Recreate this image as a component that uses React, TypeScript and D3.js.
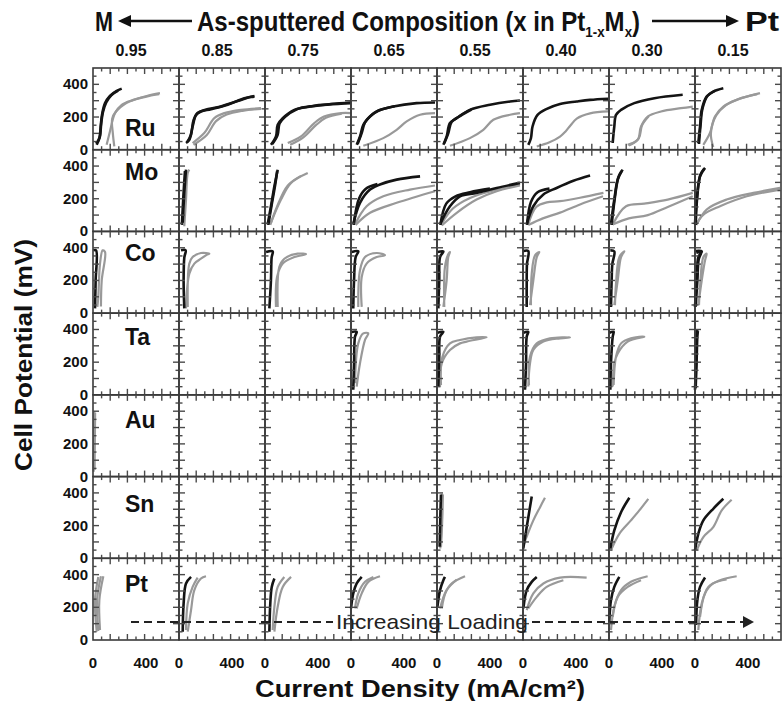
import React from 'react';
import * as d3 from 'd3';

type P = [number, number];
type Panel = { k?: P[][]; g?: P[][] };

// rows (metal M) and columns (x in Pt1-xMx)
const metals = ['Ru', 'Mo', 'Co', 'Ta', 'Au', 'Sn', 'Pt'];
const compositions = ['0.95', '0.85', '0.75', '0.65', '0.55', '0.40', '0.30', '0.15'];
const yTickLabels = [0, 200, 400];
const xTickLabels = [0, 400];

// current density (mA/cm2), cell potential (mV); k = black traces, g = gray traces
const ruPanels: Panel[] = [
  { k: [[[23, 37], [48, 71], [58, 142], [68, 213], [91, 285], [128, 329], [179, 360], [217, 374]], [[28, 30], [52, 80], [62, 160], [75, 230], [100, 290], [140, 335], [190, 362]]],
    g: [[[103, 30], [128, 112], [149, 183], [166, 224], [217, 275], [305, 305], [406, 329], [506, 346]], [[161, 20], [150, 100], [145, 190], [175, 235], [240, 280], [330, 310], [430, 330], [500, 340]]] },
  { k: [[[53, 41], [78, 61], [103, 142], [129, 213], [166, 234], [242, 248], [368, 275], [494, 315], [570, 329]], [[60, 45], [90, 90], [110, 180], [140, 225], [200, 245], [300, 262], [420, 292], [540, 322], [570, 325]]],
    g: [[[103, 41], [191, 102], [267, 193], [343, 224], [469, 244], [620, 254]], [[110, 30], [210, 90], [280, 175], [360, 215], [480, 238], [620, 250]]] },
  { k: [[[45, 30], [83, 81], [96, 152], [134, 193], [222, 244], [348, 264], [500, 280], [650, 289]], [[55, 35], [95, 90], [110, 160], [150, 200], [240, 248], [360, 268], [650, 285]]],
    g: [[[172, 41], [272, 81], [373, 163], [446, 203], [575, 224], [650, 224]], [[190, 30], [290, 75], [385, 150], [460, 195], [580, 220]]] },
  { k: [[[43, 30], [68, 81], [93, 152], [131, 193], [194, 234], [320, 264], [496, 285], [635, 289]], [[50, 35], [80, 100], [105, 165], [145, 205], [210, 240], [330, 266]]],
    g: [[[93, 24], [244, 71], [345, 122], [421, 173], [522, 214], [635, 224]]] },
  { k: [[[48, 30], [73, 81], [98, 163], [149, 193], [249, 244], [401, 275], [552, 295], [627, 301]], [[55, 40], [85, 100], [110, 170], [160, 200], [260, 246]]],
    g: [[[98, 24], [249, 71], [350, 122], [426, 183], [552, 214], [627, 224]]] },
  { k: [[[40, 30], [60, 70], [72, 142], [110, 213], [180, 250], [280, 280], [406, 295], [507, 305], [643, 312]]],
    g: [[[104, 20], [200, 45], [280, 80], [320, 110], [360, 150], [406, 190], [507, 222], [645, 234]]] },
  { k: [[[28, 41], [40, 142], [53, 213], [91, 244], [191, 285], [343, 315], [557, 336]]],
    g: [[[141, 30], [217, 61], [242, 142], [293, 203], [393, 234], [544, 254], [633, 264]], [[150, 25], [225, 70], [250, 150], [300, 205]]] },
  { k: [[[25, 41], [38, 142], [51, 244], [88, 325], [138, 356], [214, 376]], [[30, 35], [42, 150], [56, 250], [95, 330], [150, 360]]],
    g: [[[63, 30], [113, 102], [151, 203], [214, 264], [315, 305], [491, 346]], [[138, 16], [120, 100], [160, 210], [230, 270], [330, 310], [470, 340]]] },
];

const moPanels: Panel[] = [
  {},
  { k: [[[28, 53], [40, 236], [53, 378]], [[22, 40], [32, 200], [45, 370]]],
    g: [[[40, 32], [53, 195], [66, 358], [78, 378]]] },
  { k: [[[20, 43], [45, 154], [71, 276], [96, 378]], [[25, 40], [50, 160], [78, 290], [92, 370]]],
    g: [[[45, 53], [121, 195], [197, 297], [323, 358]], [[40, 40], [90, 150], [171, 280], [272, 340]]] },
  { k: [[[17, 43], [68, 175], [144, 256], [219, 287], [345, 317], [522, 337]], [[20, 40], [60, 200], [110, 260], [200, 290]]],
    g: [[[30, 43], [118, 154], [244, 215], [446, 256], [635, 281]], [[35, 40], [144, 114], [345, 175], [635, 246]]] },
  { k: [[[23, 43], [98, 154], [174, 215], [299, 236], [451, 266], [627, 297]], [[25, 40], [70, 170], [140, 215], [250, 240], [400, 262]]],
    g: [[[36, 37], [149, 114], [299, 195], [451, 246], [627, 281]], [[30, 40], [120, 140], [250, 205], [450, 255], [627, 290]]] },
  { k: [[[28, 43], [78, 154], [154, 226], [254, 266], [381, 310], [507, 342]], [[30, 40], [60, 180], [110, 240], [200, 262]]],
    g: [[[40, 43], [100, 150], [180, 178], [280, 185], [431, 206], [608, 236]], [[40, 40], [150, 80], [280, 115], [431, 165], [605, 215]]] },
  { k: [[[15, 43], [40, 195], [66, 317], [103, 378]], [[20, 40], [45, 210], [70, 330], [95, 370]]],
    g: [[[28, 43], [129, 154], [267, 170], [444, 195], [633, 236]], [[28, 43], [150, 80], [293, 100], [444, 150], [633, 215]]] },
  { k: [[[0, 43], [13, 195], [38, 337], [76, 389]], [[5, 40], [18, 220], [40, 345], [70, 385]]],
    g: [[[13, 43], [88, 134], [239, 195], [441, 236], [643, 266]], [[10, 40], [60, 100], [189, 154], [391, 215], [643, 256]]] },
];

const coPanels: Panel[] = [
  { k: [[[3, 384], [23, 384], [20, 201], [15, 29]]],
    g: [[[33, 38], [40, 99], [53, 303], [73, 384], [91, 374], [66, 201], [60, 40]]] },
  { k: [[[15, 385], [50, 385], [40, 340], [35, 200], [40, 29]]],
    g: [[[53, 29], [78, 242], [116, 303], [166, 333], [217, 360], [229, 364], [166, 368], [103, 343], [78, 303], [66, 38]]] },
  { k: [[[8, 374], [58, 378], [50, 340], [45, 201], [33, 29]]],
    g: [[[83, 38], [91, 221], [134, 303], [222, 343], [310, 360], [247, 364], [146, 333], [108, 282], [96, 38]]] },
  { k: [[[5, 374], [55, 378], [35, 343], [23, 201], [17, 29]]],
    g: [[[81, 38], [81, 221], [118, 303], [194, 343], [257, 354], [194, 368], [106, 343], [68, 262], [55, 38]]] },
  { k: [[[5, 374], [48, 378], [23, 343], [17, 201], [10, 29]]],
    g: [[[48, 38], [73, 201], [85, 343], [98, 374], [85, 360], [60, 282], [55, 38]]] },
  { k: [[[2, 380], [40, 380], [30, 300], [28, 200], [28, 38]]],
    g: [[[53, 49], [78, 201], [104, 343], [123, 374], [91, 354], [66, 242], [60, 49]]] },
  { k: [[[10, 384], [40, 378], [25, 300], [20, 201], [15, 38]]],
    g: [[[40, 49], [66, 201], [91, 343], [116, 378], [78, 343], [53, 181], [45, 49]]] },
  { k: [[[5, 380], [51, 378], [25, 343], [13, 201], [0, 38]], [[10, 370], [45, 372], [28, 330], [18, 200], [5, 40]]],
    g: [[[25, 49], [51, 201], [76, 323], [88, 364], [63, 343], [38, 160], [30, 49]]] },
];

const taPanels: Panel[] = [
  {}, {}, {},
  { k: [[[5, 385], [43, 386], [30, 356], [23, 193], [17, 31]]],
    g: [[[43, 51], [68, 193], [106, 336], [131, 376], [93, 376], [55, 315], [30, 71]]] },
  { k: [[[5, 380], [48, 386], [23, 356], [17, 234], [10, 51]]],
    g: [[[23, 51], [36, 193], [98, 275], [174, 315], [224, 326], [375, 352], [299, 352], [174, 336], [98, 315], [40, 230], [30, 60]]] },
  { k: [[[5, 380], [40, 386], [28, 356], [23, 193], [15, 31]]],
    g: [[[40, 51], [53, 193], [78, 275], [154, 326], [280, 346], [355, 352], [204, 346], [104, 315], [53, 234], [45, 60]]] },
  { k: [[[5, 380], [35, 386], [28, 356], [15, 193], [10, 31]]],
    g: [[[28, 51], [40, 193], [66, 254], [141, 326], [267, 356], [166, 346], [91, 315], [53, 234], [35, 60]]] },
  { k: [[[0, 31], [8, 193], [13, 356], [18, 397]], [[5, 40], [12, 200], [18, 360], [22, 390]]],
    g: [[[5, 50], [10, 200], [15, 380]]] },
];

const auPanels: Panel[] = [
  { g: [[[5, 30], [8, 200], [10, 400]], [[12, 40], [14, 220], [16, 390]]] },
  {}, {}, {}, {}, {}, {}, {},
];

const snPanels: Panel[] = [
  {}, {}, {}, {},
  { k: [[[20, 70], [25, 250], [30, 390]]],
    g: [[[25, 60], [35, 200], [45, 390]], [[30, 70], [40, 250], [38, 395]]] },
  { k: [[[2, 59], [28, 191], [66, 378]]],
    g: [[[8, 90], [78, 232], [129, 313], [166, 370]]] },
  { k: [[[10, 59], [40, 171], [91, 282], [154, 370]]],
    g: [[[15, 49], [78, 150], [166, 232], [229, 293], [297, 364]]] },
  { k: [[[0, 49], [25, 150], [63, 232], [138, 303], [214, 364]]],
    g: [[[13, 49], [63, 130], [138, 191], [202, 293], [277, 358]]] },
];

const ptPanels: Panel[] = [
  { g: [[[28, 51], [15, 244], [40, 386]], [[53, 61], [48, 244], [78, 390]], [[40, 55], [30, 240], [60, 390]]] },
  { k: [[[28, 51], [35, 224], [53, 346], [91, 386]]],
    g: [[[66, 51], [91, 183], [116, 305], [166, 376], [204, 390]], [[53, 61], [66, 224], [103, 325], [141, 382]]] },
  { k: [[[33, 51], [40, 224], [51, 325], [71, 376]]],
    g: [[[71, 51], [96, 203], [134, 325], [197, 386]], [[58, 61], [71, 203], [96, 325], [146, 386]]] },
  { k: [[[0, 193], [17, 285], [43, 346], [81, 386]]],
    g: [[[43, 193], [81, 285], [131, 356], [219, 390]], [[30, 193], [55, 285], [106, 356], [169, 386]]] },
  { k: [[[3, 203], [23, 305], [48, 366], [60, 386]]],
    g: [[[23, 193], [60, 285], [111, 346], [212, 390]], [[36, 193], [73, 305], [149, 370]]] },
  { k: [[[3, 193], [28, 305], [66, 356], [104, 386]]],
    g: [[[28, 183], [78, 285], [154, 346], [280, 382], [481, 382]], [[40, 193], [104, 264], [179, 325], [305, 366]]] },
  { k: [[[2, 112], [15, 244], [40, 325], [78, 386]]],
    g: [[[15, 61], [40, 203], [91, 305], [166, 356], [292, 390]], [[28, 142], [66, 264], [141, 325], [242, 366]]] },
  { k: [[[8, 92], [18, 244], [38, 325], [76, 382]]],
    g: [[[25, 61], [51, 224], [101, 325], [189, 366], [315, 390]], [[38, 142], [76, 285], [138, 346], [239, 370]]] },
];

const panelRows = [ruPanels, moPanels, coPanels, taPanels, auPanels, snPanels, ptPanels];

const FONT = '"Liberation Sans", Arial, Helvetica, sans-serif';

export default function App() {
  const W = 782;
  const H = 701;
  const colX = d3.scaleLinear().domain([0, 8]).range([93, 781]);
  const rowY = d3.scaleLinear().domain([0, 7]).range([68, 640]);
  const pw = colX(1) - colX(0);
  const ph = rowY(1) - rowY(0);
  const x = d3.scaleLinear().domain([0, 650]).range([0, pw]);
  const y = d3.scaleLinear().domain([0, 500]).range([ph, 0]);
  const line = d3.line<P>().x(d => x(d[0])).y(d => y(d[1])).curve(d3.curveCatmullRom.alpha(0.5));

  const xt = d3.range(65, 650, 65);
  const yt = d3.range(50, 500, 50);
  const tickCol = '#4a4a4a';

  const labelDy = [68, 30, 30, 32, 33, 35, 34];

  return (
    <div style={{ position: 'absolute', left: 0, top: 0 }}>
      <svg width={W} height={H} style={{ display: 'block', background: '#fff' }} fontFamily={FONT}>
        {/* header */}
        <g fontWeight="bold" fill="#111">
          <text x={95} y={31} fontSize={27} textLength={18} lengthAdjust="spacingAndGlyphs">M</text>
          <line x1={192} x2={128} y1={21} y2={21} stroke="#111" strokeWidth={2.5} />
          <path d="M118,21 L131,15 L131,27 Z" fill="#111" />
          <text transform="translate(197,31) scale(0.89,1)" fontSize={27}>
            As-sputtered Composition (x in Pt
            <tspan fontSize={15} dy={6}>1-x</tspan>
            <tspan fontSize={27} dy={-6}>M</tspan>
            <tspan fontSize={15} dy={6}>x</tspan>
            <tspan fontSize={27} dy={-6}>)</tspan>
          </text>
          <line x1={652} x2={728} y1={21} y2={21} stroke="#111" strokeWidth={2.5} />
          <path d="M739,21 L726,15 L726,27 Z" fill="#111" />
          <text x={745} y={31} fontSize={27} textLength={34} lengthAdjust="spacingAndGlyphs">Pt</text>
          {compositions.map((c, i) => (
            <text key={c} x={colX(i) + pw / 2 - 5} y={56} fontSize={16} textAnchor="middle">{c}</text>
          ))}
        </g>

        {/* y axis title */}
        <text transform="translate(32,355) rotate(-90)" fontSize={24} fontWeight="bold" textAnchor="middle"
          textLength={232} lengthAdjust="spacingAndGlyphs" fill="#111">Cell Potential (mV)</text>

        {/* y tick labels */}
        <g fontWeight="bold" fontSize={15} textAnchor="end" fill="#111">
          {metals.map((m, r) =>
            yTickLabels.map(v => (
              <text key={m + v} x={88} y={rowY(r) + y(v) + 5}>{v}</text>
            ))
          )}
        </g>

        {/* x tick labels */}
        <g fontWeight="bold" fontSize={15} textAnchor="middle" fill="#111">
          {compositions.map((c, i) =>
            xTickLabels.map(v => (
              <text key={c + v} x={colX(i) + x(v)} y={668}>{v}</text>
            ))
          )}
        </g>
        <text x={420} y={697} fontSize={24} fontWeight="bold" textAnchor="middle" fill="#111"
          textLength={330} lengthAdjust="spacingAndGlyphs">Current Density (mA/cm²)</text>

        {/* panels */}
        {panelRows.map((row, r) =>
          row.map((p, c) => (
            <g key={r + '-' + c} transform={`translate(${colX(c)},${rowY(r)})`}>
              {(p.g || []).map((s, i) => (
                <path key={'g' + i} d={line(s) || ''} fill="none" stroke="#999" strokeWidth={2.2} strokeLinejoin="round" />
              ))}
              {(p.k || []).map((s, i) => (
                <path key={'k' + i} d={line(s) || ''} fill="none" stroke="#141414" strokeWidth={2.6} strokeLinejoin="round" />
              ))}
              <rect x={0} y={0} width={pw} height={ph} fill="none" stroke="#3a3a3a" strokeWidth={1.6} />
              {xt.map((v, i) => {
                const len = i % 2 ? 6 : 3.5;
                return (
                  <g key={'x' + v} stroke={tickCol} strokeWidth={1.4}>
                    <line x1={x(v)} x2={x(v)} y1={0} y2={len} />
                    <line x1={x(v)} x2={x(v)} y1={ph} y2={ph - len} />
                  </g>
                );
              })}
              {yt.map(v => {
                const len = v % 100 === 0 ? 6 : 3.5;
                return (
                  <g key={'y' + v} stroke={tickCol} strokeWidth={1.4}>
                    <line x1={0} x2={len} y1={y(v)} y2={y(v)} />
                    <line x1={pw} x2={pw - len} y1={y(v)} y2={y(v)} />
                  </g>
                );
              })}
            </g>
          ))
        )}

        {/* metal labels */}
        <g fontWeight="bold" fontSize={23} fill="#111">
          {metals.map((m, r) => (
            <text key={m} x={125} y={rowY(r) + labelDy[r]}>{m}</text>
          ))}
        </g>

        {/* increasing loading arrow */}
        <g>
          <line x1={131} x2={333} y1={622} y2={622} stroke="#222" strokeWidth={2} strokeDasharray="8,5" />
          <line x1={532} x2={744} y1={622} y2={622} stroke="#222" strokeWidth={2} strokeDasharray="8,5" />
          <path d="M754,622 L743,616 L743,628 Z" fill="#222" />
          <text x={432} y={629} fontSize={21} textAnchor="middle" textLength={192} lengthAdjust="spacingAndGlyphs" fill="#222">Increasing Loading</text>
        </g>
      </svg>
    </div>
  );
}
